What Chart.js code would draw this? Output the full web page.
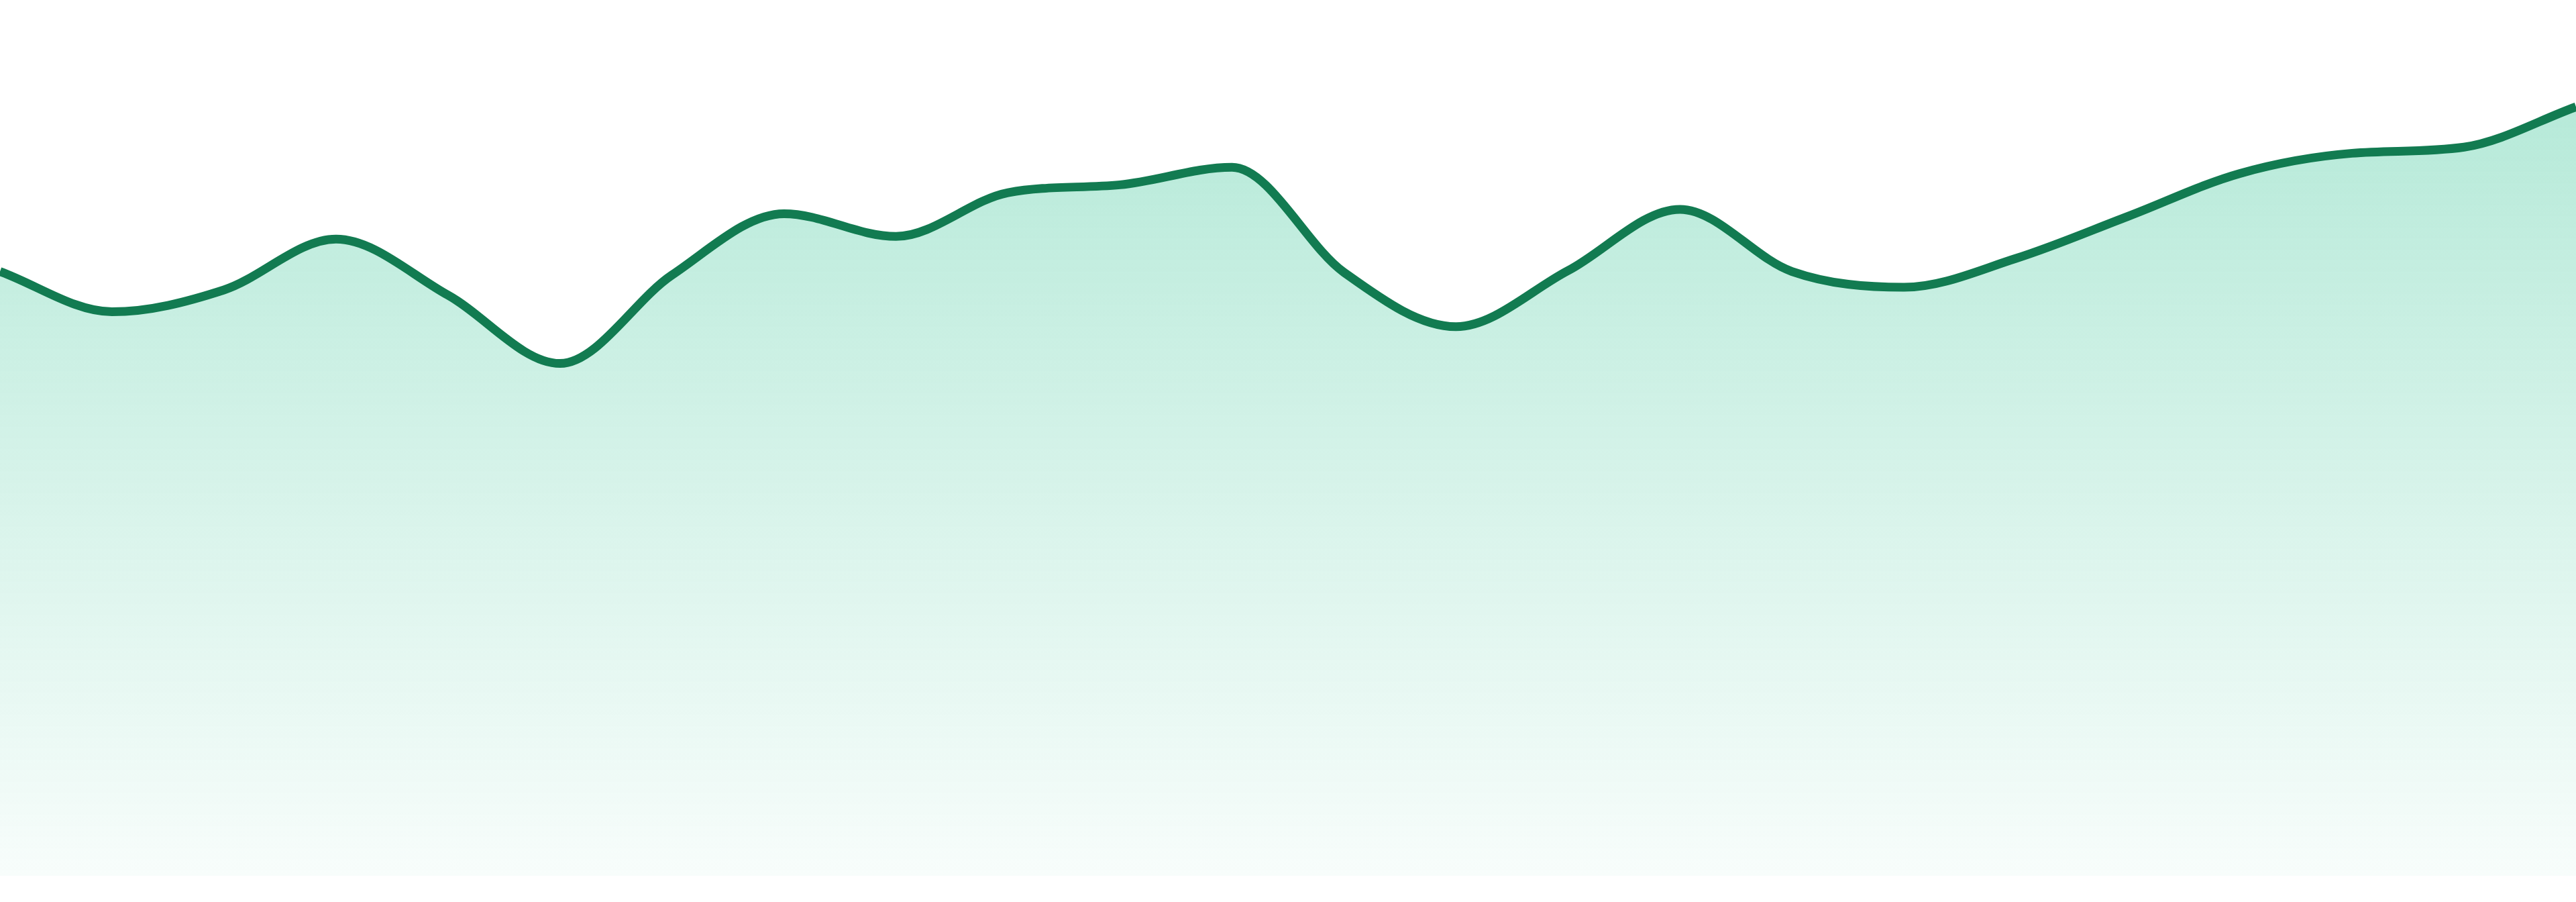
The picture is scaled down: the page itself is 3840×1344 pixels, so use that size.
<!DOCTYPE html>
<html lang="en">
<head>
    <meta charset="utf-8">
    <title>Area chart</title>
    <style>
        html, body { margin: 0; padding: 0; background: #ffffff; }
        #areaChart { display: block; }
    </style>
    <script src="https://cdn.jsdelivr.net/npm/chart.js"></script>
</head>
<body>
    <canvas id="areaChart" width="3840" height="1344"></canvas>
    <script>
        // Kategorier (en per punkt) och värden
        const categories = ['01', '02', '03', '04', '05', '06', '07', '08', '09', '10', '11', '12',
                            '13', '14', '15', '16', '17', '18', '19', '20', '21', '22', '23', '24'];
        const values = [69.0, 64.4, 66.9, 72.7, 66.3, 58.5, 68.6, 75.6, 73.0, 78.0, 78.9, 80.9,
                        68.9, 62.7, 69.1, 76.1, 69.0, 67.2, 70.5, 75.3, 80.2, 82.5, 83.2, 87.8];
        const yRange = [0, 100];

        const lineColor = '#127b51';

        // Gradient som tonar ut mot botten
        function fillGradient(context) {
            const chart = context.chart;
            const area = chart.chartArea;
            if (!area) {
                return null;
            }
            const g = chart.ctx.createLinearGradient(0, area.top, 0, area.bottom);
            g.addColorStop(0, 'rgba(16, 185, 129, 0.34)');
            g.addColorStop(1, 'rgba(16, 185, 129, 0.03)');
            return g;
        }

        new Chart(document.getElementById('areaChart'), {
            type: 'line',
            data: {
                labels: categories,
                datasets: [{
                    data: values,
                    borderColor: lineColor,
                    borderWidth: 13,
                    backgroundColor: fillGradient,
                    fill: 'start',
                    cubicInterpolationMode: 'monotone',
                    pointRadius: 0,
                    pointHoverRadius: 0
                }]
            },
            options: {
                responsive: false,
                animation: false,
                devicePixelRatio: 1,
                layout: {
                    padding: { top: 0, left: 0, right: 0, bottom: 39 }
                },
                plugins: {
                    legend: { display: false },
                    tooltip: { enabled: false }
                },
                scales: {
                    x: { display: false },
                    y: { display: false, min: yRange[0], max: yRange[1] }
                }
            }
        });
    </script>
</body>
</html>
